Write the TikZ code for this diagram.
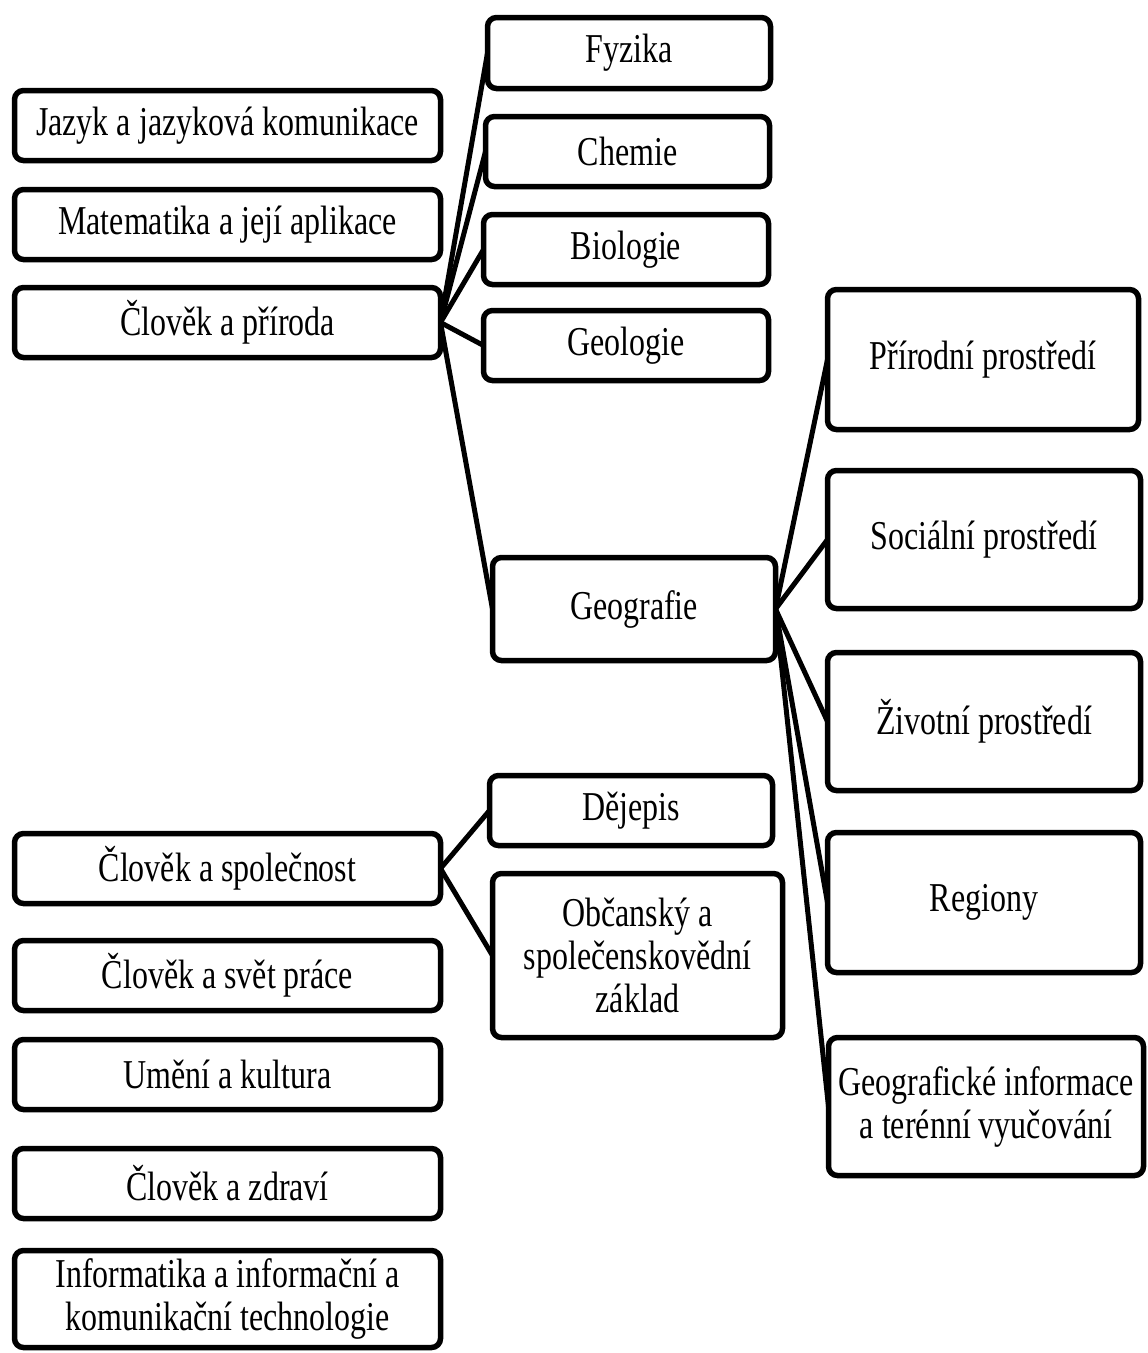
\documentclass[tikz,border=0pt]{standalone}
\usepackage{fontspec}
\setmainfont{Liberation Serif}[FakeStretch=0.78]
\begin{document}
\begin{tikzpicture}[x=1pt,y=-1pt,
  box/.style={draw=black, line width=5.5pt, rounded corners=9pt, fill=white,
    align=center, inner sep=0pt, outer sep=0pt,
    font=\fontsize{41}{43}\selectfont},
  link/.style={draw=black, line width=5pt}]
\useasboundingbox (0,0) rectangle (1148,1353);

% left column: educational areas
\node[box, minimum width=426, minimum height=70] (jazyk)  at (227.5,125.5) {Jazyk a jazyková komunikace};
\node[box, minimum width=426, minimum height=70] (mat)    at (227.5,224.5) {Matematika a její aplikace};
\node[box, minimum width=426, minimum height=70] (prir)   at (227.5,322.5) {Člověk a příroda};
\node[box, minimum width=426, minimum height=70] (spol)   at (227.5,868.5) {Člověk a společnost};
\node[box, minimum width=426, minimum height=70] (svet)   at (227.5,975.5) {Člověk a svět práce};
\node[box, minimum width=426, minimum height=70] (umeni)  at (227.5,1074.5) {Umění a kultura};
\node[box, minimum width=426, minimum height=70] (zdravi) at (227.5,1183.5) {Člověk a zdraví};
\node[box, minimum width=426, minimum height=97] (info)   at (227.5,1299) {Informatika a informační a\\komunikační technologie};

% middle column: subjects
\node[box, minimum width=283, minimum height=71] (fyz)  at (629,53)    {Fyzika};
\node[box, minimum width=284, minimum height=70] (chem) at (627.5,151.5) {Chemie};
\node[box, minimum width=285, minimum height=70] (bio)  at (626,249.5) {Biologie};
\node[box, minimum width=285, minimum height=70] (geol) at (626,345.5) {Geologie};
\node[box, minimum width=283, minimum height=103] (geog) at (634,609)  {Geografie};
\node[box, minimum width=283, minimum height=70] (dej)  at (631,810.5) {Dějepis};
\node[box, minimum width=290, minimum height=164] (obc)  at (637.5,955.5) {Občanský a\\společenskovědní\\základ};

% right column: geography themes
\node[box, minimum width=311, minimum height=140] (prpr) at (983,359.5)  {Přírodní prostředí};
\node[box, minimum width=313, minimum height=138] (sopr) at (984,539.5)  {Sociální prostředí};
\node[box, minimum width=313, minimum height=138] (zipr) at (984,721.5)  {Životní prostředí};
\node[box, minimum width=313, minimum height=140] (reg)  at (984,902.5)  {Regiony};
\node[box, minimum width=315, minimum height=138] (gein) at (986,1106.5) {Geografické informace\\a terénní vyučování};

% connectors
\foreach \c in {fyz,chem,bio,geol,geog}
  \draw[link] (prir.east) -- (\c.west);
\foreach \c in {prpr,sopr,zipr,reg,gein}
  \draw[link] (geog.east) -- (\c.west);
\foreach \c in {dej,obc}
  \draw[link] (spol.east) -- (\c.west);
\end{tikzpicture}
\end{document}
